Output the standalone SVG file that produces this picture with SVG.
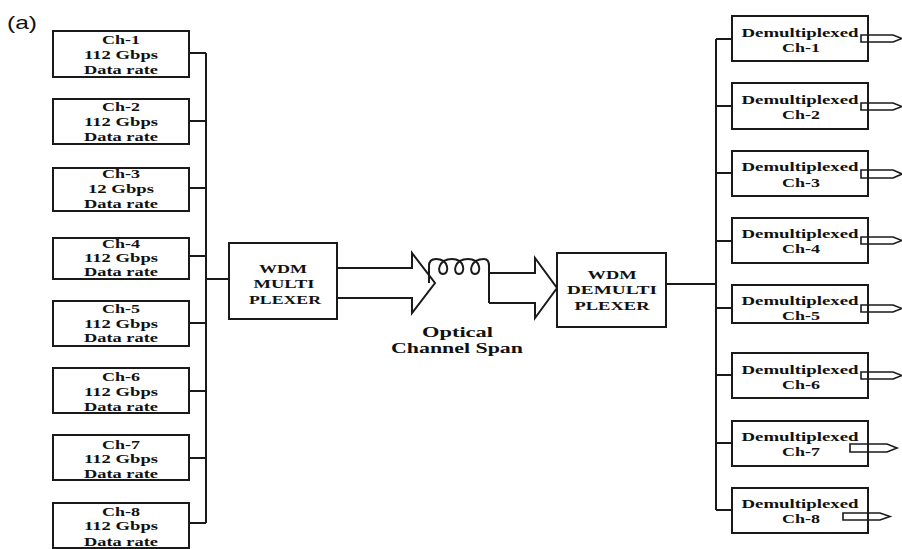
<svg xmlns="http://www.w3.org/2000/svg" width="902" height="549" viewBox="0 0 902 549">
<style>
.box{fill:#fff;stroke:#1a1a1a;stroke-width:2}
.ln{fill:none;stroke:#1a1a1a;stroke-width:2}
.t{font-family:"Liberation Serif","Times New Roman",serif;font-weight:bold;font-size:13px;fill:#111;text-anchor:middle}
.ts{font-size:12px}
.tb{font-size:13.5px}
.tl{font-size:15px}
.out{fill:#fff;stroke:#1a1a1a;stroke-width:1.6}
</style>
<rect width="902" height="549" fill="#fff"/>
<text x="7" y="29" font-family="Liberation Sans, Arial, sans-serif" font-size="19" textLength="30" lengthAdjust="spacingAndGlyphs" fill="#111">(a)</text>

<g id="connectors">
  <path class="ln" d="M206 53V523M189 53H206M189 121H206M189 188H206M189 256H206M189 323H206M189 391H206M189 458H206M189 523H206M206 279H229"/>
  <path class="ln" d="M337 268H412V253L435 283L412 313V298H337"/>
  <path class="ln" d="M429 283V266Q429 259 436 259C449 259 450 274 443 274C436 274 438 259 452 259C465 259 466 274 459 274C452 274 454 259 468 259C481 259 482 274 475 274C468 274 470 259 484 259Q489 259 489 266V303"/>
  <path class="ln" stroke-width="3" d="M489 264V288"/>
  <path class="ln" d="M489 273H535V258L557 288L535 318V303H489"/>
  <path class="ln" stroke-width="3" d="M666 284H716"/>
  <path class="ln" d="M716 39V510M716 39H732M716 106H732M716 173H732M716 241H732M716 308H732M716 375H732M716 443H732M716 510H732"/>
</g>

<g id="ch1"><rect class="box" x="53" y="31" width="136" height="46"/>
<text class="t" x="121" y="43.5" textLength="38" lengthAdjust="spacingAndGlyphs">Ch-1</text>
<text class="t" x="121" y="58.5" textLength="74" lengthAdjust="spacingAndGlyphs">112 Gbps</text>
<text class="t" x="121" y="73.5" textLength="74" lengthAdjust="spacingAndGlyphs">Data rate</text></g>
<g id="ch2"><rect class="box" x="53" y="99" width="136" height="45"/>
<text class="t" x="121" y="110.5" textLength="38" lengthAdjust="spacingAndGlyphs">Ch-2</text>
<text class="t" x="121" y="125.5" textLength="74" lengthAdjust="spacingAndGlyphs">112 Gbps</text>
<text class="t" x="121" y="140.5" textLength="74" lengthAdjust="spacingAndGlyphs">Data rate</text></g>
<g id="ch3"><rect class="box" x="53" y="168" width="136" height="43"/>
<text class="t" x="121" y="177.5" textLength="38" lengthAdjust="spacingAndGlyphs">Ch-3</text>
<text class="t" x="121" y="192.5" textLength="66" lengthAdjust="spacingAndGlyphs">12 Gbps</text>
<text class="t" x="121" y="207.5" textLength="74" lengthAdjust="spacingAndGlyphs">Data rate</text></g>
<g id="ch4"><rect class="box" x="53" y="238" width="136" height="41"/>
<text class="t ts" x="121" y="248" textLength="38" lengthAdjust="spacingAndGlyphs">Ch-4</text>
<text class="t ts" x="121" y="261.5" textLength="74" lengthAdjust="spacingAndGlyphs">112 Gbps</text>
<text class="t ts" x="121" y="275.5" textLength="74" lengthAdjust="spacingAndGlyphs">Data rate</text></g>
<g id="ch5"><rect class="box" x="53" y="301" width="136" height="45"/>
<text class="t" x="121" y="312.5" textLength="38" lengthAdjust="spacingAndGlyphs">Ch-5</text>
<text class="t" x="121" y="327.5" textLength="74" lengthAdjust="spacingAndGlyphs">112 Gbps</text>
<text class="t" x="121" y="341.5" textLength="74" lengthAdjust="spacingAndGlyphs">Data rate</text></g>
<g id="ch6"><rect class="box" x="53" y="368" width="136" height="45"/>
<text class="t" x="121" y="380.5" textLength="38" lengthAdjust="spacingAndGlyphs">Ch-6</text>
<text class="t" x="121" y="395.5" textLength="74" lengthAdjust="spacingAndGlyphs">112 Gbps</text>
<text class="t" x="121" y="410.5" textLength="74" lengthAdjust="spacingAndGlyphs">Data rate</text></g>
<g id="ch7"><rect class="box" x="53" y="435" width="136" height="45"/>
<text class="t" x="121" y="448.5" textLength="38" lengthAdjust="spacingAndGlyphs">Ch-7</text>
<text class="t" x="121" y="462.5" textLength="74" lengthAdjust="spacingAndGlyphs">112 Gbps</text>
<text class="t" x="121" y="477.5" textLength="74" lengthAdjust="spacingAndGlyphs">Data rate</text></g>
<g id="ch8"><rect class="box" x="53" y="503" width="136" height="45"/>
<text class="t" x="121" y="515.5" textLength="38" lengthAdjust="spacingAndGlyphs">Ch-8</text>
<text class="t" x="121" y="529.5" textLength="74" lengthAdjust="spacingAndGlyphs">112 Gbps</text>
<text class="t" x="121" y="545.5" textLength="74" lengthAdjust="spacingAndGlyphs">Data rate</text></g>

<g id="mux"><rect class="box" x="229" y="243" width="108" height="76"/>
<text class="t tb" x="283" y="272.5" textLength="48" lengthAdjust="spacingAndGlyphs">WDM</text>
<text class="t tb" x="284" y="287.5" textLength="61" lengthAdjust="spacingAndGlyphs">MULTI</text>
<text class="t tb" x="285" y="303.5" textLength="72" lengthAdjust="spacingAndGlyphs">PLEXER</text></g>

<g id="span">
<text class="t tl" x="457.5" y="337" textLength="71" lengthAdjust="spacingAndGlyphs">Optical</text>
<text class="t tl" x="457" y="353" textLength="132" lengthAdjust="spacingAndGlyphs">Channel Span</text></g>

<g id="demux"><rect class="box" x="557" y="253" width="109" height="74"/>
<text class="t tb" x="612" y="278.5" textLength="49" lengthAdjust="spacingAndGlyphs">WDM</text>
<text class="t tb" x="612" y="293.5" textLength="90" lengthAdjust="spacingAndGlyphs">DEMULTI</text>
<text class="t tb" x="612" y="309.5" textLength="75" lengthAdjust="spacingAndGlyphs">PLEXER</text></g>

<g id="d1"><rect class="box" x="732" y="16" width="136" height="45"/>
<text class="t" x="800" y="36.5" textLength="117" lengthAdjust="spacingAndGlyphs">Demultiplexed</text>
<text class="t" x="801" y="51.5" textLength="38" lengthAdjust="spacingAndGlyphs">Ch-1</text>
<path class="out" d="M861 35H893L902 38.5L893 42H861Z"/><path class="ln" d="M868 33V44"/></g>
<g id="d2"><rect class="box" x="732" y="83" width="136" height="46"/>
<text class="t" x="800" y="103.5" textLength="117" lengthAdjust="spacingAndGlyphs">Demultiplexed</text>
<text class="t" x="801" y="118.5" textLength="38" lengthAdjust="spacingAndGlyphs">Ch-2</text>
<path class="out" d="M861 103H893L902 106.5L893 110H861Z"/><path class="ln" d="M868 101V112"/></g>
<g id="d3"><rect class="box" x="732" y="151" width="136" height="45"/>
<text class="t" x="800" y="170.5" textLength="117" lengthAdjust="spacingAndGlyphs">Demultiplexed</text>
<text class="t" x="801" y="186.5" textLength="38" lengthAdjust="spacingAndGlyphs">Ch-3</text>
<path class="out" d="M861 170H893L902 174L893 178H861Z"/><path class="ln" d="M868 168V180"/></g>
<g id="d4"><rect class="box" x="732" y="218" width="136" height="45"/>
<text class="t" x="800" y="237.5" textLength="117" lengthAdjust="spacingAndGlyphs">Demultiplexed</text>
<text class="t" x="801" y="252.5" textLength="38" lengthAdjust="spacingAndGlyphs">Ch-4</text>
<path class="out" d="M861 237H893L902 240.5L893 244H861Z"/><path class="ln" d="M868 235V246"/></g>
<g id="d5"><rect class="box" x="732" y="285" width="136" height="38"/>
<text class="t" x="800" y="304.5" textLength="117" lengthAdjust="spacingAndGlyphs">Demultiplexed</text>
<text class="t" x="801" y="319.5" textLength="38" lengthAdjust="spacingAndGlyphs">Ch-5</text>
<path class="out" d="M861 305H893L902 308.5L893 312H861Z"/><path class="ln" d="M868 303V314"/></g>
<g id="d6"><rect class="box" x="732" y="353" width="136" height="45"/>
<text class="t" x="800" y="373.5" textLength="117" lengthAdjust="spacingAndGlyphs">Demultiplexed</text>
<text class="t" x="801" y="388.5" textLength="38" lengthAdjust="spacingAndGlyphs">Ch-6</text>
<path class="out" d="M861 372H893L902 375.5L893 379H861Z"/><path class="ln" d="M868 370V381"/></g>
<g id="d7"><rect class="box" x="732" y="421" width="136" height="45"/>
<text class="t" x="800" y="440.5" textLength="117" lengthAdjust="spacingAndGlyphs">Demultiplexed</text>
<text class="t" x="801" y="455.5" textLength="38" lengthAdjust="spacingAndGlyphs">Ch-7</text>
<path class="out" d="M850 444H887L897 448L887 452H850Z"/><path class="ln" d="M868 442V454"/></g>
<g id="d8"><rect class="box" x="732" y="488" width="136" height="45"/>
<text class="t" x="800" y="507.5" textLength="117" lengthAdjust="spacingAndGlyphs">Demultiplexed</text>
<text class="t" x="801" y="522.5" textLength="38" lengthAdjust="spacingAndGlyphs">Ch-8</text>
<path class="out" d="M843 513H880L890 516.5L880 520H843Z"/><path class="ln" d="M868 511V522"/></g>
</svg>
